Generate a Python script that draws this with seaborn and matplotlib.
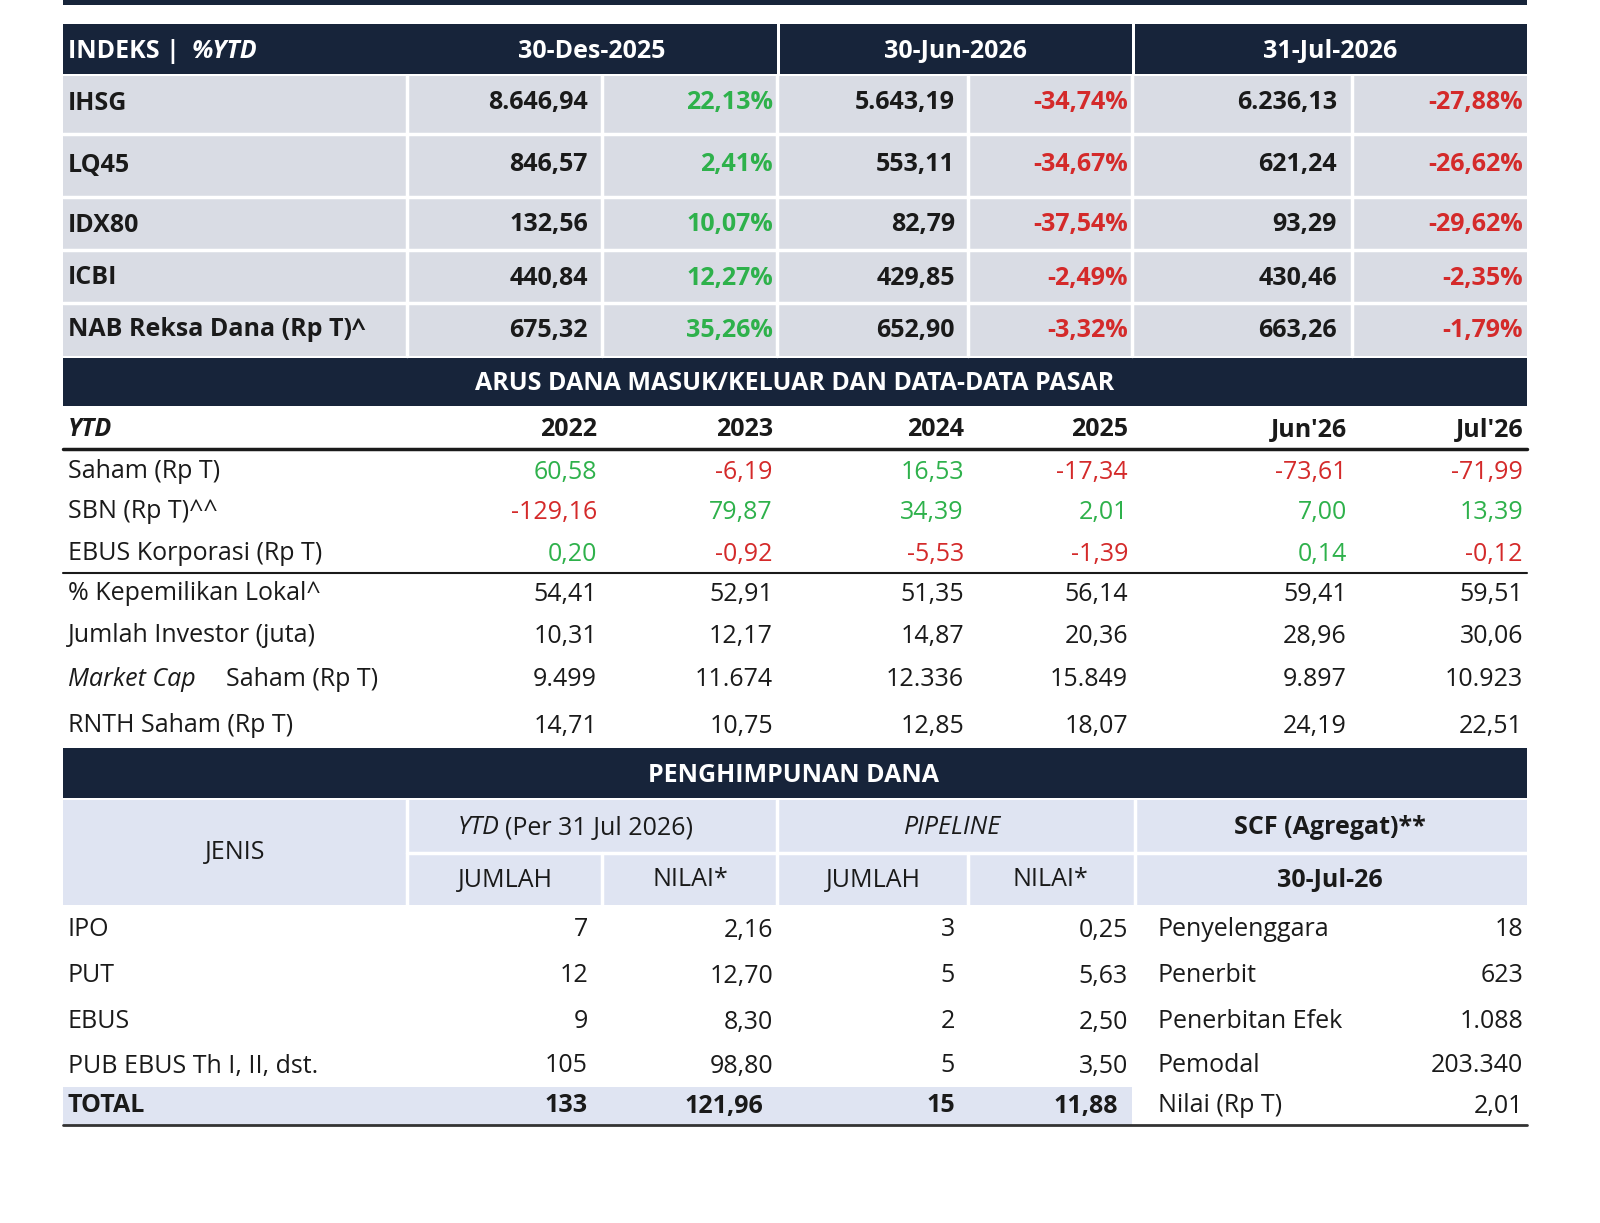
import matplotlib.pyplot as plt
import seaborn as sns
from matplotlib.patches import Rectangle

sns.set_theme(style="white")
plt.rcParams['font.family'] = ['Open Sans', 'DejaVu Sans']

NAVY = '#17243a'
GREY = '#d9dce4'
LBLUE = '#dfe4f2'
GREEN = '#2eb14b'
RED = '#d42a2a'
BLACK = '#1a1a1a'

# --- data ---
idx_names = ['IHSG', 'LQ45', 'IDX80', 'ICBI', 'NAB Reksa Dana (Rp T)^']
idx_dates = ['30-Des-2025', '30-Jun-2026', '31-Jul-2026']
idx_dec = ['8.646,94', '846,57', '132,56', '440,84', '675,32']
idx_dec_pct = ['22,13%', '2,41%', '10,07%', '12,27%', '35,26%']
idx_jun = ['5.643,19', '553,11', '82,79', '429,85', '652,90']
idx_jun_pct = ['-34,74%', '-34,67%', '-37,54%', '-2,49%', '-3,32%']
idx_jul = ['6.236,13', '621,24', '93,29', '430,46', '663,26']
idx_jul_pct = ['-27,88%', '-26,62%', '-29,62%', '-2,35%', '-1,79%']

flow_years = ['2022', '2023', '2024', '2025', "Jun'26", "Jul'26"]
flow_names = ['Saham (Rp T)', 'SBN (Rp T)^^', 'EBUS Korporasi (Rp T)']
flow_vals = [['60,58', '-6,19', '16,53', '-17,34', '-73,61', '-71,99'],
             ['-129,16', '79,87', '34,39', '2,01', '7,00', '13,39'],
             ['0,20', '-0,92', '-5,53', '-1,39', '0,14', '-0,12']]
mkt_names = ['% Kepemilikan Lokal^', 'Jumlah Investor (juta)', 'MARKETCAP', 'RNTH Saham (Rp T)']
mkt_vals = [['54,41', '52,91', '51,35', '56,14', '59,41', '59,51'],
            ['10,31', '12,17', '14,87', '20,36', '28,96', '30,06'],
            ['9.499', '11.674', '12.336', '15.849', '9.897', '10.923'],
            ['14,71', '10,75', '12,85', '18,07', '24,19', '22,51']]

fund_names = ['IPO', 'PUT', 'EBUS', 'PUB EBUS Th I, II, dst.']
fund_ytd_n = ['7', '12', '9', '105']
fund_ytd_v = ['2,16', '12,70', '8,30', '98,80']
fund_pipe_n = ['3', '5', '2', '5']
fund_pipe_v = ['0,25', '5,63', '2,50', '3,50']
total_vals = ['133', '121,96', '15', '11,88']
scf_names = ['Penyelenggara', 'Penerbit', 'Penerbitan Efek', 'Pemodal', 'Nilai (Rp T)']
scf_vals = ['18', '623', '1.088', '203.340', '2,01']

fig = plt.figure(figsize=(16, 12.23), dpi=100)
ax = fig.add_axes([0, 0, 1, 1])
ax.set_xlim(0, 1600)
ax.set_ylim(1223, 0)
ax.axis('off')

def rect(x0, y0, x1, y1, c):
    ax.add_patch(Rectangle((x0, y0), x1 - x0, y1 - y0, color=c, lw=0))

def txt(x, y, s, ha='left', c=BLACK, w='normal', size=18, st='normal'):
    ax.text(x, y, s, ha=ha, va='center', color=c, fontweight=w, fontsize=size, fontstyle=st)

def pn(s):
    return RED if s.startswith('-') else GREEN

# top bar
rect(63, 0, 1527, 5, NAVY)

# table 1 header
rect(63, 24, 777, 74, NAVY)
rect(780, 24, 1132, 74, NAVY)
rect(1135, 24, 1527, 74, NAVY)
txt(68, 51, 'INDEKS |', c='white', w='bold')
txt(192, 51, '%YTD', c='white', w='bold', st='italic')
for cx, d in zip([592, 955, 1330], idx_dates):
    txt(cx, 51, d, ha='center', c='white', w='bold')

rect(63, 76, 1527, 356, GREY)
row_y = [103, 165, 225, 278, 330]
for yb in [134, 197, 250, 303]:
    ax.plot([63, 1527], [yb, yb], color='white', lw=2.5)
for xv in [407, 602, 777, 968, 1132, 1352]:
    ax.plot([xv, xv], [76, 356], color='white', lw=2.5)
for i, y in enumerate(row_y):
    txt(68, y, idx_names[i], w='bold')
    txt(588, y, idx_dec[i], ha='right', w='bold')
    txt(773, y, idx_dec_pct[i], ha='right', w='bold', c=pn(idx_dec_pct[i]))
    txt(955, y, idx_jun[i], ha='right', w='bold')
    txt(1128, y, idx_jun_pct[i], ha='right', w='bold', c=pn(idx_jun_pct[i]))
    txt(1337, y, idx_jul[i], ha='right', w='bold')
    txt(1523, y, idx_jul_pct[i], ha='right', w='bold', c=pn(idx_jul_pct[i]))

# section 2
rect(63, 358, 1527, 406, NAVY)
txt(795, 383, 'ARUS DANA MASUK/KELUAR DAN DATA-DATA PASAR', ha='center', c='white', w='bold')
col_r = [597, 773, 964, 1128, 1347, 1523]
txt(68, 430, 'YTD', w='bold', st='italic')
for xr, yr in zip(col_r, flow_years):
    txt(xr, 430, yr, ha='right', w='bold')
ax.plot([63, 1527], [449, 449], color=BLACK, lw=2.5)
for i, y in enumerate([472, 512, 554]):
    txt(68, y, flow_names[i])
    for xr, v in zip(col_r, flow_vals[i]):
        txt(xr, y, v, ha='right', c=pn(v))
ax.plot([63, 1527], [573, 573], color=BLACK, lw=1.5)
for i, y in enumerate([594, 636, 679, 726]):
    if mkt_names[i] == 'MARKETCAP':
        txt(68, y, 'Market Cap', st='italic')
        txt(226, y, 'Saham (Rp T)')
    else:
        txt(68, y, mkt_names[i])
    for xr, v in zip(col_r, mkt_vals[i]):
        txt(xr, y, v, ha='right')

# section 3
rect(63, 748, 1527, 798, NAVY)
txt(793, 775, 'PENGHIMPUNAN DANA', ha='center', c='white', w='bold')
rect(63, 800, 1527, 905, LBLUE)
ax.plot([407, 1527], [853, 853], color='white', lw=2.5)
for xv in [407, 777, 1135]:
    ax.plot([xv, xv], [800, 905], color='white', lw=2.5)
for xv in [602, 968]:
    ax.plot([xv, xv], [853, 905], color='white', lw=2.5)
txt(235, 853, 'JENIS', ha='center')
txt(458, 828, 'YTD', st='italic')
txt(505, 828, '(Per 31 Jul 2026)')
txt(953, 828, 'PIPELINE', ha='center', st='italic')
txt(1330, 828, 'SCF (Agregat)**', ha='center', w='bold')
for cx, s in zip([505, 690, 873, 1050], ['JUMLAH', 'NILAI*', 'JUMLAH', 'NILAI*']):
    txt(cx, 880, s, ha='center')
txt(1330, 880, '30-Jul-26', ha='center', w='bold')

fy = [930, 976, 1022, 1066]
for i, y in enumerate(fy):
    txt(68, y, fund_names[i])
    txt(588, y, fund_ytd_n[i], ha='right')
    txt(773, y, fund_ytd_v[i], ha='right')
    txt(955, y, fund_pipe_n[i], ha='right')
    txt(1128, y, fund_pipe_v[i], ha='right')
rect(63, 1087, 1132, 1125, LBLUE)
txt(68, 1106, 'TOTAL', w='bold')
for xr, v in zip([588, 763, 955, 1118], total_vals):
    txt(xr, 1106, v, ha='right', w='bold')
for y, n, v in zip(fy + [1106], scf_names, scf_vals):
    txt(1158, y, n)
    txt(1523, y, v, ha='right')
ax.plot([63, 1527], [1125, 1125], color='#333333', lw=2)

fig.savefig('out.png', dpi=100)
